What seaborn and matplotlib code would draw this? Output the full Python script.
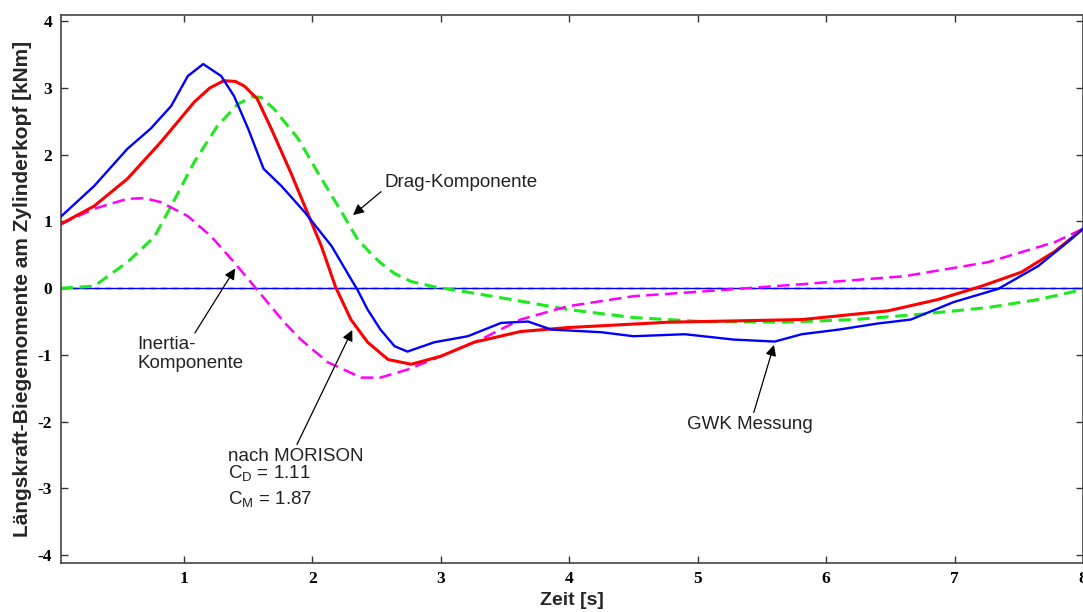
import numpy as np
import pandas as pd
import matplotlib
matplotlib.use("Agg")
import matplotlib.pyplot as plt
import seaborn as sns

# Messung (GWK)
t_gwk = [0.04, 0.30, 0.56, 0.74, 0.90, 1.03, 1.15, 1.29, 1.39, 1.50, 1.62, 1.76, 1.94, 2.15, 2.30,
         2.35, 2.43, 2.53, 2.64, 2.74, 2.95, 3.21, 3.47, 3.68, 3.86, 4.25, 4.50, 4.90, 5.28, 5.60,
         5.81, 6.10, 6.40, 6.66, 6.99, 7.34, 7.65, 7.88, 8.0]
m_gwk = [1.07, 1.53, 2.09, 2.39, 2.73, 3.18, 3.36, 3.18, 2.88, 2.39, 1.79, 1.53, 1.14, 0.63, 0.14,
         -0.02, -0.32, -0.62, -0.87, -0.95, -0.81, -0.72, -0.52, -0.50, -0.62, -0.66, -0.72, -0.69, -0.77, -0.80,
         -0.69, -0.62, -0.53, -0.47, -0.21, -0.01, 0.33, 0.69, 0.89]

# nach MORISON
t_mor = [0.04, 0.30, 0.56, 0.82, 1.08, 1.20, 1.31, 1.40, 1.47, 1.57, 1.68, 1.83, 1.96, 2.07, 2.18,
         2.30, 2.43, 2.59, 2.77, 3.00, 3.26, 3.62, 3.99, 4.77, 5.81, 6.48, 6.87, 7.21, 7.52, 7.78, 8.0]
m_mor = [0.96, 1.23, 1.64, 2.19, 2.79, 3.00, 3.11, 3.10, 3.03, 2.84, 2.39, 1.74, 1.14, 0.63, 0.02,
         -0.47, -0.81, -1.07, -1.14, -1.02, -0.81, -0.65, -0.59, -0.51, -0.47, -0.34, -0.17, 0.03, 0.24, 0.55, 0.89]

# Drag-Komponente
t_drag = [0.04, 0.30, 0.56, 0.77, 0.90, 1.08, 1.26, 1.42, 1.53, 1.60, 1.70, 1.89, 2.04, 2.20, 2.35,
          2.45, 2.53, 2.64, 2.77, 2.95, 3.21, 3.55, 3.99, 4.50, 5.03, 5.68, 6.22, 6.74, 7.26, 7.65, 8.0]
m_drag = [0.0, 0.03, 0.39, 0.77, 1.23, 1.89, 2.43, 2.76, 2.87, 2.86, 2.69, 2.24, 1.74, 1.23, 0.74,
          0.53, 0.38, 0.22, 0.10, 0.02, -0.06, -0.17, -0.32, -0.44, -0.50, -0.51, -0.47, -0.39, -0.29, -0.17, -0.02]

# Inertia-Komponente
t_ine = [0.04, 0.30, 0.56, 0.69, 0.82, 1.03, 1.21, 1.39, 1.62, 1.78, 1.91, 2.12, 2.38, 2.53, 2.74,
         3.00, 3.31, 3.62, 3.99, 4.50, 5.03, 5.81, 6.61, 7.26, 7.78, 8.0]
m_ine = [0.96, 1.19, 1.34, 1.35, 1.29, 1.08, 0.78, 0.39, -0.14, -0.51, -0.77, -1.11, -1.34, -1.34, -1.22,
         -1.02, -0.77, -0.47, -0.27, -0.12, -0.05, 0.06, 0.18, 0.39, 0.69, 0.89]

x_ticks = [1, 2, 3, 4, 5, 6, 7, 8]
y_ticks = [-4, -3, -2, -1, 0, 1, 2, 3, 4]

sns.set_style("ticks")
plt.rcParams['font.family'] = ['Liberation Sans', 'DejaVu Sans']
plt.rcParams['axes.unicode_minus'] = False

fig = plt.figure(figsize=(10.83, 6.12), dpi=100)
ax = fig.add_axes([0.056, 0.080, 0.944, 0.896])

ax.axhline(0, color="black", lw=1.0, ls=(0, (4, 4)), zorder=1)
ax.axhline(0, color="#0000ff", lw=1.0, zorder=1.5)

sns.lineplot(x=t_drag, y=m_drag, ax=ax, color="#1ee81e", lw=2.2, linestyle=(0, (4, 2.2)), zorder=2)
sns.lineplot(x=t_ine, y=m_ine, ax=ax, color="#ff00ff", lw=1.8, linestyle=(0, (5, 2.5)), zorder=2)
sns.lineplot(x=t_mor, y=m_mor, ax=ax, color="#ff0000", lw=2.2, zorder=3)
sns.lineplot(x=t_gwk, y=m_gwk, ax=ax, color="#0000ff", lw=1.7, zorder=4)

ax.set_xlim(0.04, 8.0)
ax.set_ylim(-4.12, 4.1)
ax.set_xticks(x_ticks)
ax.set_yticks(y_ticks)
ax.tick_params(direction="in", top=True, right=True, length=5, width=1, colors="#333333",
               labelcolor="black", pad=6)
for lab in ax.get_xticklabels() + ax.get_yticklabels():
    lab.set_family("Liberation Serif")
    lab.set_fontweight("bold")
    lab.set_fontsize(12.5)
for s in ax.spines.values():
    s.set_visible(True)
    s.set_color("#444444")
    s.set_linewidth(1.2)

ax.set_xlabel("Zeit [s]", fontsize=14, fontweight="bold", labelpad=3)
ax.set_ylabel("Längskraft-Biegemomente am Zylinderkopf [kNm]", fontsize=15, fontweight="bold", labelpad=4)

arrow = dict(arrowstyle="-|>", color="black", lw=0.9, mutation_scale=16)
ann = dict(fontsize=13.5, color="#222222")

ax.annotate("Drag-Komponente", xy=(2.30, 1.07), xytext=(2.56, 1.59), va="center", ha="left",
            arrowprops=dict(arrow, shrinkA=0, relpos=(0, 0.1)), **ann)
ax.annotate("Inertia-\nKomponente", xy=(1.41, 0.33), xytext=(0.64, -0.72), va="top", ha="left",
            linespacing=1.15, arrowprops=dict(arrow, shrinkA=0, relpos=(0.52, 1.0)), **ann)
ax.annotate("nach MORISON", xy=(2.32, -0.59), xytext=(1.34, -2.52), va="center", ha="left",
            arrowprops=dict(arrow, shrinkA=0, relpos=(0.5, 1.0)), **ann)
ax.text(1.34, -2.78, "C$_\\mathregular{D}$ = 1.11", va="center", ha="left", **ann)
ax.text(1.34, -3.17, "C$_\\mathregular{M}$ = 1.87", va="center", ha="left", **ann)
ax.annotate("GWK Messung", xy=(5.60, -0.81), xytext=(4.92, -2.04), va="center", ha="left",
            arrowprops=dict(arrow, shrinkA=0, relpos=(0.52, 1.0)), **ann)

fig.savefig("out.png", dpi=100)
